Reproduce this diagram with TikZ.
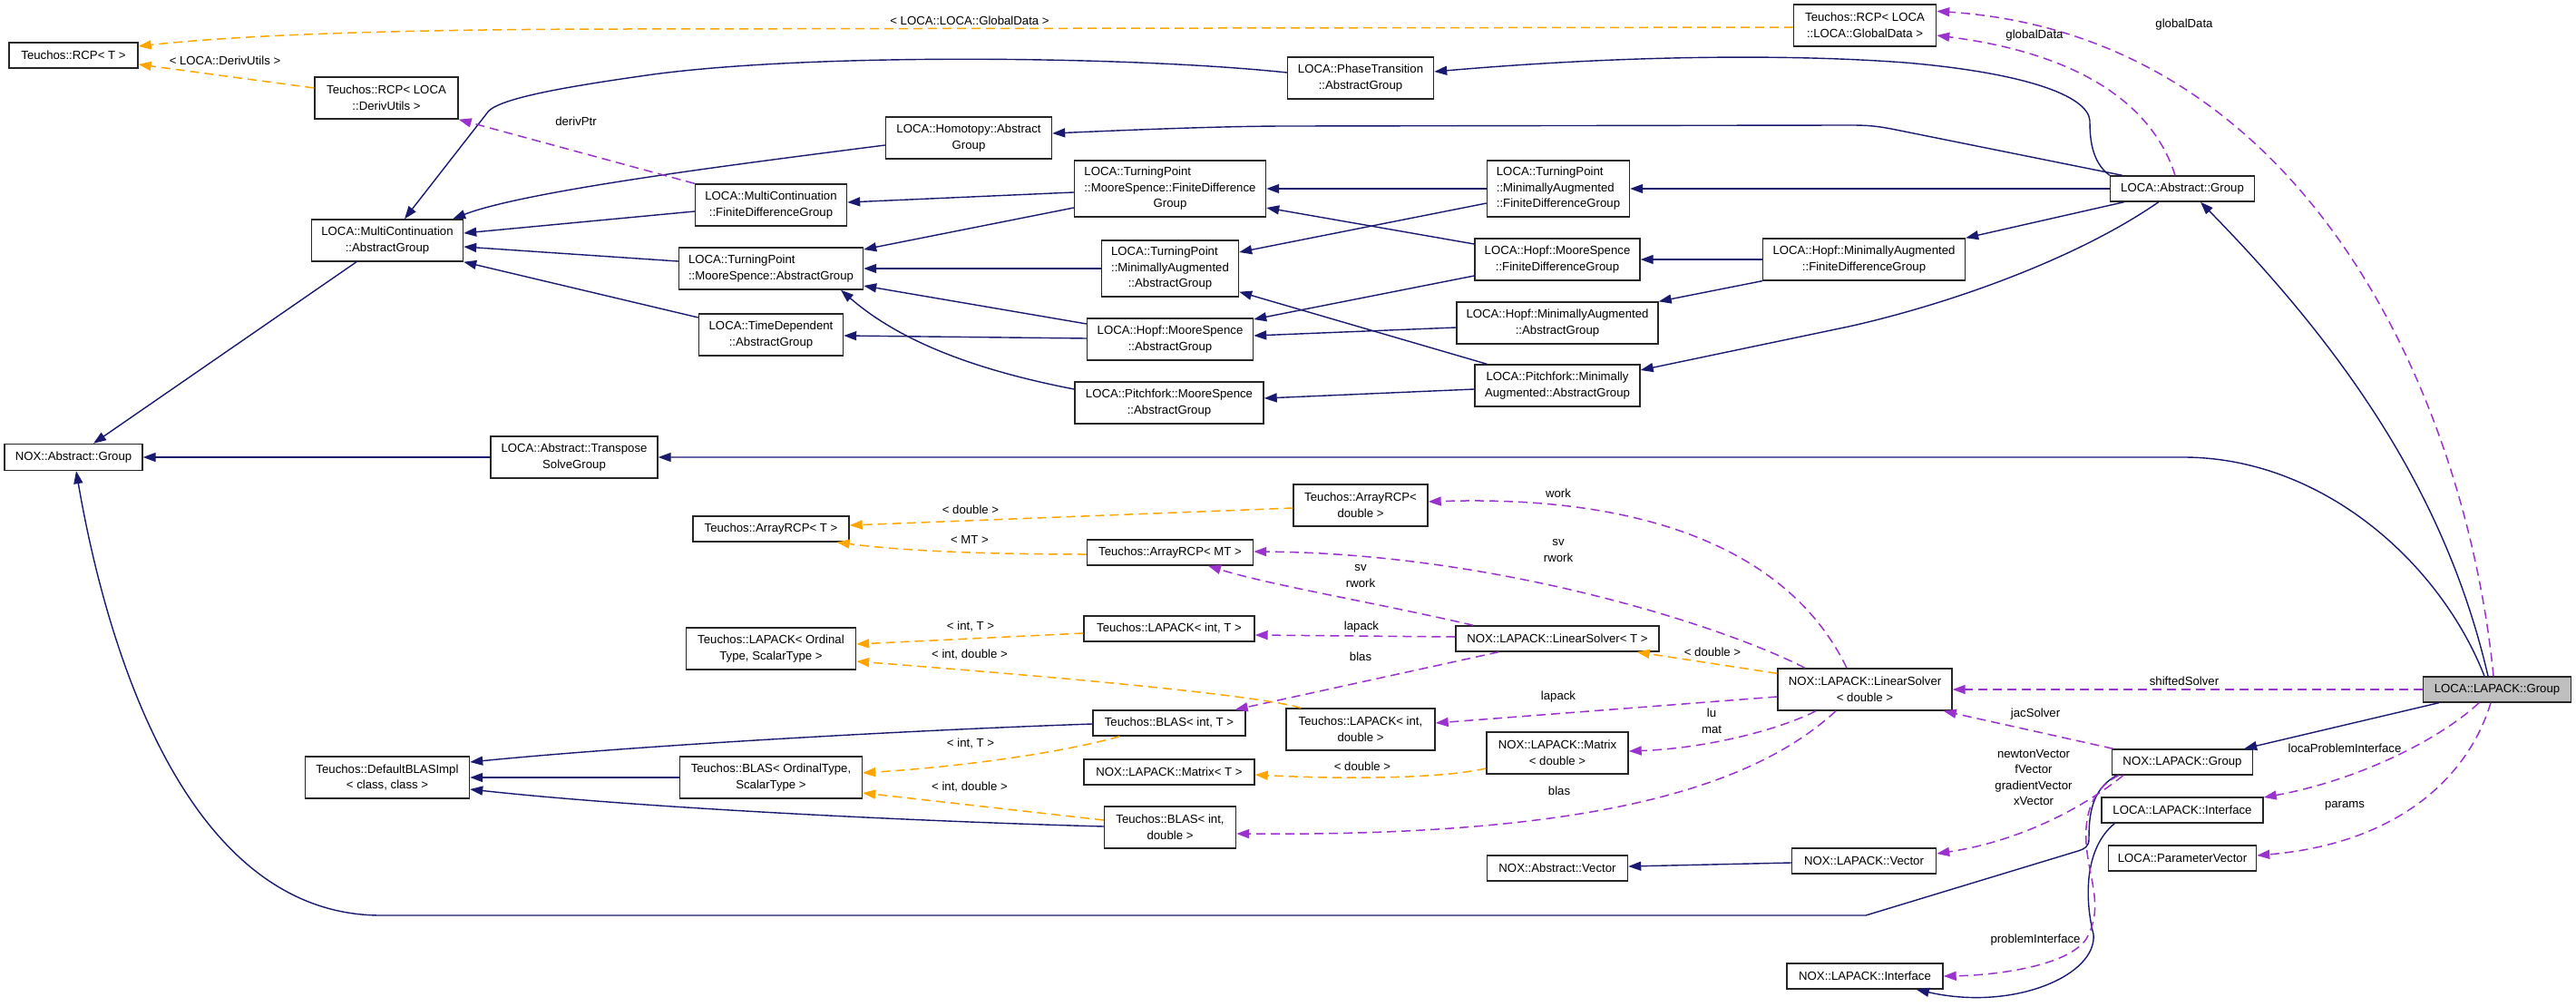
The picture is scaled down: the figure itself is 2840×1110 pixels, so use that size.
\documentclass[tikz,border=0pt]{standalone}
\usepackage{fontspec}
\setmainfont{Liberation Sans}
\usepackage{calc}
\usetikzlibrary{arrows.meta,calc}
\definecolor{inhblue}{HTML}{191970}
\definecolor{usepurple}{HTML}{9A32CD}
\definecolor{tmplorange}{HTML}{FFA500}
\definecolor{boxgray}{HTML}{BFBFBF}
\newcommand{\lfirst}[2]{\makebox[\widthof{#2}][l]{#1}}
\begin{document}
\begin{tikzpicture}[x=1pt,y=-1pt,
  cls/.style={draw=black!85,line width=1.4pt,fill=white,inner sep=0pt,align=center,font=\fontsize{13.2}{17.5}\selectfont},
  wh/.style 2 args={minimum width=#1pt,minimum height=#2pt},
  inh/.style={draw=inhblue,line width=1.4pt,-{Triangle[length=14pt,width=10pt]}},
  use/.style={draw=usepurple,line width=1.5pt,dash pattern=on 10pt off 6pt,-{Triangle[length=14pt,width=10pt]}},
  tmpl/.style={draw=tmplorange,line width=1.5pt,dash pattern=on 10pt off 6pt,-{Triangle[length=14pt,width=10pt]}},
  lbl/.style={font=\fontsize{13.2}{17.5}\selectfont,align=center,inner sep=0pt}]
\fill[white] (0,0) rectangle (2840,1110);
\useasboundingbox (0,0) rectangle (2840,1110);

% ---------- nodes ----------
\node[cls,wh={142}{28}] (RCPT) at (81,61) {Teuchos::RCP< T >};
\node[cls,wh={158}{46}] (RCPDU) at (426,108) {Teuchos::RCP< LOCA\\::DerivUtils >};
\node[cls,wh={167}{46}] (MCAG) at (427,265) {LOCA::MultiContinuation\\::AbstractGroup};
\node[cls,wh={152}{29}] (NAG) at (81,504) {NOX::Abstract::Group};
\node[cls,wh={184}{46}] (TSG) at (633,504) {LOCA::Abstract::Transpose\\SolveGroup};
\node[cls,wh={167}{46}] (MCFD) at (850,226) {LOCA::MultiContinuation\\::FiniteDifferenceGroup};
\node[cls,wh={183}{46}] (Homotopy) at (1068,152) {LOCA::Homotopy::Abstract\\Group};
\node[cls,wh={211}{62}] (TPMSFD) at (1290,208) {\lfirst{LOCA::TurningPoint}{::MooreSpence::FiniteDifference}\\::MooreSpence::FiniteDifference\\Group};
\node[cls,wh={203}{46},align=left] (TPMSAG) at (850,296) {LOCA::TurningPoint\\::MooreSpence::AbstractGroup};
\node[cls,wh={151}{62}] (TPMAAG) at (1290,296) {\lfirst{LOCA::TurningPoint}{::MinimallyAugmented}\\::MinimallyAugmented\\::AbstractGroup};
\node[cls,wh={159}{46}] (TD) at (850,369) {LOCA::TimeDependent\\::AbstractGroup};
\node[cls,wh={183}{46}] (HopfMSAG) at (1290,374) {LOCA::Hopf::MooreSpence\\::AbstractGroup};
\node[cls,wh={208}{46}] (PitchMSAG) at (1289,444) {LOCA::Pitchfork::MooreSpence\\::AbstractGroup};
\node[cls,wh={172}{28}] (ArrT) at (850,583) {Teuchos::ArrayRCP< T >};
\node[cls,wh={183}{28}] (ArrMT) at (1290,609) {Teuchos::ArrayRCP< MT >};
\node[cls,wh={187}{46}] (LapOS) at (850,715) {Teuchos::LAPACK< Ordinal\\Type, ScalarType >};
\node[cls,wh={188}{28}] (LapIntT) at (1289,693) {Teuchos::LAPACK< int, T >};
\node[cls,wh={157}{46}] (RCPGD) at (2056,28) {Teuchos::RCP< LOCA\\::LOCA::GlobalData >};
\node[cls,wh={161}{46}] (PT) at (1500,86) {LOCA::PhaseTransition\\::AbstractGroup};
\node[cls,wh={157}{62},align=left] (TPMAFD) at (1718,208) {LOCA::TurningPoint\\::MinimallyAugmented\\::FiniteDifferenceGroup};
\node[cls,wh={182}{46}] (HopfMSFD) at (1717,286) {LOCA::Hopf::MooreSpence\\::FiniteDifferenceGroup};
\node[cls,wh={223}{46}] (HopfMAFD) at (2055,286) {LOCA::Hopf::MinimallyAugmented\\::FiniteDifferenceGroup};
\node[cls,wh={222}{46}] (HopfMAAG) at (1717,356) {LOCA::Hopf::MinimallyAugmented\\::AbstractGroup};
\node[cls,wh={182}{46}] (PitchMAAG) at (1717,425) {LOCA::Pitchfork::Minimally\\Augmented::AbstractGroup};
\node[cls,wh={148}{46}] (ArrD) at (1500,557) {Teuchos::ArrayRCP<\\double >};
\node[cls,wh={224}{28}] (LinSolT) at (1717,704) {NOX::LAPACK::LinearSolver< T >};
\node[cls,wh={159}{28}] (AG) at (2406,208) {LOCA::Abstract::Group};
\node[cls,wh={168}{28}] (BlasIntT) at (1289,797) {Teuchos::BLAS< int, T >};
\node[cls,wh={201}{46}] (BlasOS) at (850,857) {Teuchos::BLAS< OrdinalType,\\ScalarType >};
\node[cls,wh={188}{28}] (MatT) at (1289,851) {NOX::LAPACK::Matrix< T >};
\node[cls,wh={145}{46}] (BlasID) at (1290,912) {Teuchos::BLAS< int,\\double >};
\node[cls,wh={181}{46}] (DefBLAS) at (427,857) {Teuchos::DefaultBLASImpl\\< class, class >};
\node[cls,wh={192}{46}] (LinSolD) at (2056,760) {NOX::LAPACK::LinearSolver\\< double >};
\node[cls,wh={164}{46}] (LapID) at (1500,804) {Teuchos::LAPACK< int,\\double >};
\node[cls,wh={156}{46}] (MatD) at (1717,830) {NOX::LAPACK::Matrix\\< double >};
\node[cls,wh={155}{28}] (AVec) at (1717,957) {NOX::Abstract::Vector};
\node[cls,wh={159}{28}] (LVec) at (2055,949) {NOX::LAPACK::Vector};
\node[cls,wh={172}{28}] (NLI) at (2056,1076) {NOX::LAPACK::Interface};
\node[cls,wh={163}{28},fill=boxgray] (LLG) at (2753,760) {LOCA::LAPACK::Group};
\node[cls,wh={155}{28}] (NLG) at (2406,840) {NOX::LAPACK::Group};
\node[cls,wh={178}{28}] (LLI) at (2406,893) {LOCA::LAPACK::Interface};
\node[cls,wh={163}{28}] (PV) at (2406,946) {LOCA::ParameterVector};

% ---------- inheritance ----------
\draw[inh] ($(MCAG.south)+(-34,0)$) -- ($(NAG.north)+(22,0)$);
\draw[inh] ($(PT.west)+(0,-6)$) .. controls (1250,62) and (900,58) .. (720,82) .. controls (620,96) and (555,108) .. (539,122) -- ($(MCAG.north)+(19,0)$);
\draw[inh] ($(Homotopy.west)+(0,8)$) .. controls (820,180) and (580,210) .. ($(MCAG.north east)+(-12,0)$);
\draw[inh] ($(MCFD.west)+(0,7)$) -- ($(MCAG.east)+(0,-8)$);
\draw[inh] ($(TPMSAG.west)+(0,-8)$) -- ($(MCAG.east)+(0,7)$);
\draw[inh] ($(TD.west)+(0,-19)$) -- (MCAG.south east);
\draw[inh] ($(TPMSFD.west)+(0,4)$) -- ($(MCFD.east)+(0,-3)$);
\draw[inh] ($(TPMSFD.west)+(0,21)$) -- ($(TPMSAG.east)+(0,-21)$);
\draw[inh] (TPMAAG.west) -- (TPMSAG.east);
\draw[inh] ($(HopfMSAG.west)+(0,-17)$) -- ($(TPMSAG.east)+(0,19)$);
\draw[inh] ($(PitchMSAG.west)+(0,-15)$) .. controls (1060,405) and (985,370) .. ($(TPMSAG.south)+(77,0)$);
\draw[inh] ($(HopfMSAG.west)+(0,-1)$) -- ($(TD.east)+(0,1)$);
\draw[inh] (TPMAFD.west) -- (TPMSFD.east);
\draw[inh] ($(TPMAFD.west)+(0,16)$) -- ($(TPMAAG.east)+(0,-18)$);
\draw[inh] ($(HopfMSFD.west)+(0,-17)$) -- ($(TPMSFD.east)+(0,21)$);
\draw[inh] ($(HopfMSFD.west)+(0,18)$) -- ($(HopfMSAG.east)+(0,-22)$);
\draw[inh] (HopfMAFD.west) -- (HopfMSFD.east);
\draw[inh] (HopfMAFD.south west) -- (HopfMAAG.north east);
\draw[inh] ($(HopfMAAG.west)+(0,5)$) -- ($(HopfMSAG.east)+(0,-4)$);
\draw[inh] ($(PitchMAAG.west)+(0,4)$) -- ($(PitchMSAG.east)+(0,-5)$);
\draw[inh] ($(PitchMAAG.north west)+(14,0)$) -- ($(TPMAAG.south east)+(0,-6)$);
\draw[inh] (AG.north west) .. controls (2305,178) and (2304,150) .. (2304,133) .. controls (2302,105) and (2230,80) .. (2100,69) .. controls (1980,60) and (1800,60) .. ($(PT.east)+(0,-7)$);
\draw[inh] ($(AG.north west)+(14,0)$) -- (2090,143) .. controls (2070,139) and (2060,138) .. (2040,138) -- (1420,139) .. controls (1350,139) and (1250,143) .. ($(Homotopy.east)+(0,-5)$);
\draw[inh] (AG.west) -- (TPMAFD.east);
\draw[inh] ($(AG.south west)+(16,0)$) -- (HopfMAFD.north east);
\draw[inh] ($(AG.south west)+(54,0)$) .. controls (2290,285) and (2150,335) .. (2038,360) -- ($(PitchMAAG.east)+(0,-17)$);
\draw[inh] (TSG.west) -- (NAG.east);
\draw[inh] ($(LLG.north)+(-10,0)$) .. controls (2700,560) and (2600,400) .. ($(AG.south)+(20,0)$);
\draw[inh] ($(LLG.north)+(-14,0)$) .. controls (2690,620) and (2560,504) .. (2407,504) -- (TSG.east);
\draw[inh] ($(LLG.south west)+(18,0)$) -- ($(NLG.north east)+(-10,0)$);
\draw[inh] ($(NLG.south west)+(6,0)$) .. controls (2305,870) and (2303,900) .. (2303,925) .. controls (2303,933) and (2298,936) .. (2291,938) -- (2057,1009) -- (420,1009) .. controls (200,1009) and (115,700) .. ($(NAG.south)+(3,0)$);
\draw[inh] ($(LVec.west)+(0,2)$) -- ($(AVec.east)+(0,-2)$);
\draw[inh] ($(LLI.south west)+(15,0)$) .. controls (2298,935) and (2298,990) .. (2308,1030) .. controls (2312,1075) and (2220,1115) .. ($(NLI.south east)+(-30,0)$);
\draw[inh] ($(BlasIntT.west)+(0,1)$) .. controls (1000,805) and (700,822) .. ($(DefBLAS.east)+(0,-17)$);
\draw[inh] (BlasOS.west) -- (DefBLAS.east);
\draw[inh] ($(BlasID.west)+(0,-1)$) .. controls (1000,905) and (700,890) .. ($(DefBLAS.east)+(0,13)$);

% ---------- usage ----------
\draw[use] (MCFD.north west) -- (RCPDU.south east);
\draw[use] ($(AG.north)+(-8,0)$) .. controls (2375,120) and (2300,60) .. ($(RCPGD.east)+(0,11)$);
\draw[use] ($(LLG.north)+(-4,0)$) .. controls (2720,450) and (2550,40) .. ($(RCPGD.north east)+(0,8)$);
\draw[use] (LLG.west) -- (LinSolD.east);
\draw[use] ($(NLG.north west)+(2,0)$) -- ($(LinSolD.south east)+(-10,0)$);
\draw[use] ($(NLG.south west)+(13,0)$) .. controls (2310,880) and (2240,925) .. ($(LVec.east)+(0,-8)$);
\draw[use] ($(NLG.south west)+(8,0)$) .. controls (2305,870) and (2298,900) .. (2300,930) .. controls (2303,970) and (2320,1000) .. (2300,1035) .. controls (2280,1065) and (2200,1075) .. (NLI.east);
\draw[use] ($(LLG.south)+(-20,0)$) .. controls (2690,815) and (2600,860) .. ($(LLI.east)+(0,-14)$);
\draw[use] ($(LLG.south)+(-7,0)$) .. controls (2720,860) and (2640,930) .. ($(PV.east)+(0,-3)$);
\draw[use] ($(LinSolD.north)+(-20,0)$) .. controls (1975,610) and (1820,545) .. ($(ArrD.east)+(0,-4)$);
\draw[use] ($(LinSolD.north)+(-66,0)$) .. controls (1900,690) and (1650,610) .. ($(ArrMT.east)+(0,-1)$);
\draw[use] ($(LinSolT.north west)+(20,0)$) .. controls (1520,665) and (1400,645) .. ($(ArrMT.south)+(42,0)$);
\draw[use] ($(LinSolT.west)+(0,-2)$) -- ($(LapIntT.east)+(0,7)$);
\draw[use] ($(LinSolT.south west)+(48,0)$) -- ($(BlasIntT.north east)+(-12,0)$);
\draw[use] ($(LinSolD.west)+(0,8)$) -- ($(LapID.east)+(0,-7)$);
\draw[use] ($(LinSolD.south)+(-54,0)$) .. controls (1960,805) and (1880,825) .. ($(MatD.east)+(0,-2)$);
\draw[use] ($(LinSolD.south)+(-32,0)$) .. controls (1930,870) and (1750,922) .. ($(BlasID.east)+(0,7)$);

% ---------- template instances ----------
\draw[tmpl] ($(RCPGD.west)+(0,2)$) -- (700,32) .. controls (450,32) and (270,38) .. ($(RCPT.east)+(0,-10)$);
\draw[tmpl] ($(RCPDU.west)+(0,-11)$) -- ($(RCPT.east)+(0,10)$);
\draw[tmpl] ($(ArrD.west)+(0,3)$) -- ($(ArrT.east)+(0,-4)$);
\draw[tmpl] ($(ArrMT.west)+(0,2)$) .. controls (1100,611) and (1000,608) .. ($(ArrT.south east)+(-14,0)$);
\draw[tmpl] ($(LapIntT.west)+(0,5)$) -- ($(LapOS.east)+(0,-5)$);
\draw[tmpl] ($(LapID.north west)+(17,0)$) .. controls (1380,765) and (1150,745) .. ($(LapOS.east)+(0,14)$);
\draw[tmpl] ($(BlasIntT.south west)+(30,0)$) .. controls (1170,830) and (1060,845) .. ($(BlasOS.east)+(0,-5)$);
\draw[tmpl] ($(BlasID.west)+(0,-8)$) -- ($(BlasOS.east)+(0,17)$);
\draw[tmpl] ($(MatD.west)+(0,17)$) .. controls (1580,860) and (1460,858) .. ($(MatT.east)+(0,3)$);
\draw[tmpl] ($(LinSolD.north west)+(0,6)$) -- ($(LinSolT.south east)+(-25,0)$);

% ---------- labels ----------
\node[lbl] (t1) at (248,67) {< LOCA::DerivUtils >};
\node[lbl] (t2) at (1069,23) {< LOCA::LOCA::GlobalData >};
\node[lbl] (t3) at (635,134) {derivPtr};
\node[lbl] (t4) at (2408,27) {globalData};
\node[lbl] (t5) at (2243,39) {globalData};
\node[lbl] (t6) at (1070,562) {< double >};
\node[lbl] (t7) at (1069,595) {< MT >};
\node[lbl] (t8) at (1070,691) {< int, T >};
\node[lbl] (t9) at (1069,722) {< int, double >};
\node[lbl] (t10) at (1070,820) {< int, T >};
\node[lbl] (t11) at (1069,868) {< int, double >};
\node[lbl] (t12) at (1718,544) {work};
\node[lbl] (t13) at (1718,607) {sv\\rwork};
\node[lbl] (t14) at (1500,635) {sv\\rwork};
\node[lbl] (t15) at (1501,691) {lapack};
\node[lbl] (t16) at (1500,724) {blas};
\node[lbl] (t17) at (1888,719) {< double >};
\node[lbl] (t18) at (1718,768) {lapack};
\node[lbl] (t19) at (1887,795) {lu\\mat};
\node[lbl] (t20) at (1502,845) {< double >};
\node[lbl] (t21) at (1719,872) {blas};
\node[lbl] (t22) at (2408,751) {shiftedSolver};
\node[lbl] (t23) at (2244,787) {jacSolver};
\node[lbl] (t24) at (2242,857) {newtonVector\\fVector\\gradientVector\\xVector};
\node[lbl] (t25) at (2585,825) {locaProblemInterface};
\node[lbl] (t26) at (2585,888) {params};
\node[lbl] (t27) at (2244,1036) {problemInterface};
\end{tikzpicture}
\end{document}
